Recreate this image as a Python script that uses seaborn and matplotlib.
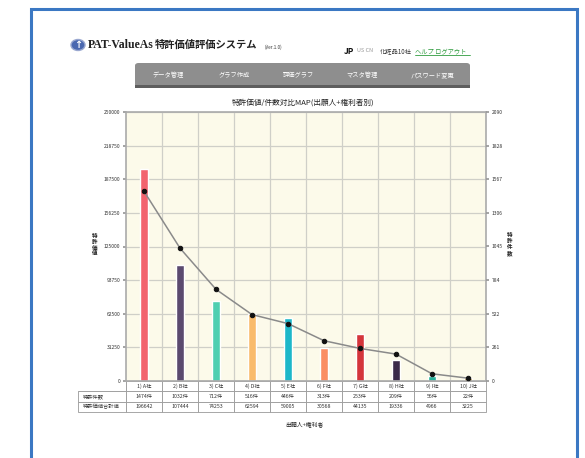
import matplotlib
matplotlib.use("Agg")
import matplotlib.pyplot as plt
from matplotlib.patches import Rectangle, FancyBboxPatch, Circle
import pandas as pd
import seaborn as sns

sns.set_theme(style="white")
plt.rcParams["font.family"] = ["Noto Sans CJK JP", "DejaVu Sans"]

# データ
categories = ["1) A社", "2) B社", "3) C社", "4) D社", "5) E社",
              "6) F社", "7) G社", "8) H社", "9) I社", "10) J社"]
patent_value = [196642, 107444, 74253, 62594, 59005, 30568, 44135, 19336, 4966, 3225]
patent_count = [1474, 1032, 712, 516, 446, 313, 253, 209, 56, 22]
bar_colors = ["#f2636f", "#5b4a6f", "#4fcfb1", "#f9bb6c", "#1db7c9",
              "#fa8d64", "#d4353b", "#3b2a49", "#27b29b", "#c9a13f"]
left_ticks = [0, 31250, 62500, 93750, 125000, 156250, 187500, 218750, 250000]
right_ticks = [0, 261.25, 522.5, 783.75, 1045, 1306.25, 1567.5, 1828.75, 2090]
right_labels = ["0", "261", "522", "784", "1045", "1306", "1567", "1828", "2090"]
row_labels = ["特許件数", "特許価値合計値"]
nav_items = ["データ管理", "グラフ作成", "評価グラフ", "マスタ管理", "パスワード変更"]

df = pd.DataFrame({"cat": categories, "value": patent_value, "count": patent_count})

W, H = 585, 458
fig = plt.figure(figsize=(W / 100, H / 100), dpi=100)
fig.patch.set_facecolor("white")


def fx(x):
    return x / W


def fy(y):
    return 1 - y / H


# 外枠
fig.add_artist(Rectangle((fx(31), fy(470)), fx(546), (470 - 9) / H, transform=fig.transFigure,
                         fill=False, edgecolor="#3b78c3", linewidth=2.2))

# ヘッダー
fig.add_artist(Circle((fx(78), fy(45)), 0.012, transform=fig.transFigure,
                      facecolor="#4a68b0", edgecolor="#9aa8d0", linewidth=1))
fig.text(fx(78), fy(45), "↑", ha="center", va="center", color="white", fontsize=7,
         fontweight="bold", family=["DejaVu Sans"])
fig.text(fx(88), fy(45), "PAT-ValueAs", ha="left", va="center", fontsize=8.5,
         fontweight="bold", family=["Liberation Serif", "DejaVu Serif"], color="#222")
fig.text(fx(155), fy(45), "特許価値評価システム", ha="left", va="center", fontsize=7.4,
         fontweight="bold", color="#222")
fig.text(fx(265), fy(47), "(Ver.1.0)", ha="left", va="center", fontsize=3.3, color="#333")
fig.text(fx(344), fy(51), "JP", ha="left", va="center", fontsize=6, fontweight="bold", color="#111")
fig.text(fx(357), fy(51), "US CN", ha="left", va="center", fontsize=4, color="#999")
fig.text(fx(380), fy(51), "化粧品10社", ha="left", va="center", fontsize=4.5, color="#333")
fig.text(fx(415), fy(51), "ヘルプ ログアウト", ha="left", va="center", fontsize=4.5,
         color="#2e9b3e")
fig.add_artist(plt.Line2D([fx(415), fx(470)], [fy(55), fy(55)], transform=fig.transFigure,
                          color="#2e9b3e", linewidth=0.6))

# ナビゲーション
fig.add_artist(FancyBboxPatch((fx(135), fy(87)), fx(335), 24 / H, transform=fig.transFigure,
                              boxstyle="round,pad=0,rounding_size=0.006",
                              facecolor="#8e8e8e", edgecolor="none"))
fig.add_artist(Rectangle((fx(135), fy(88)), fx(335), 3 / H, transform=fig.transFigure,
                         facecolor="#5e5e5e", edgecolor="none"))
for x, name in zip([168, 234, 298, 362, 432], nav_items):
    fig.text(fx(x), fy(75), name, ha="center", va="center", fontsize=4.5, color="white")

# グラフ
ax = fig.add_axes([fx(126), fy(381), fx(360), (381 - 112) / H])
ax.set_facecolor("#fcfaea")
sns.barplot(data=df, x="cat", y="value", hue="cat", palette=bar_colors, legend=False,
            width=0.2, saturation=1, ax=ax, zorder=2)
ax.set_ylim(0, 250000)
ax.set_xlim(-0.5, len(categories) - 0.5)
ax.set_yticks(left_ticks)
ax.set_yticklabels([str(t) for t in left_ticks])
ax.set_xticks([i + 0.5 for i in range(len(categories) - 1)], minor=True)
ax.set_xticks([])
ax.grid(True, axis="y", color="#cfcfc8", linewidth=0.9, zorder=0)
ax.grid(True, axis="x", which="minor", color="#cfcfc8", linewidth=0.9, zorder=0)
ax.tick_params(axis="y", labelsize=3.6, length=2, color="#999", pad=2, labelcolor="#333", left=True)
ax.tick_params(axis="x", which="minor", length=0)
ax.set_xlabel("")
ax.set_ylabel("")
for s in ax.spines.values():
    s.set_color("#aaaaaa")
    s.set_linewidth(1.2)

ax2 = ax.twinx()
sns.lineplot(data=df, x="cat", y="count", ax=ax2, color="#8a8a8a", linewidth=1.1,
             marker="o", markersize=3.2, markerfacecolor="#111", markeredgecolor="#111",
             sort=False, zorder=3)
ax2.set_ylim(0, 2090)
ax2.set_yticks(right_ticks)
ax2.set_yticklabels(right_labels)
ax2.tick_params(axis="y", labelsize=3.6, length=2, color="#999", pad=2, labelcolor="#333", right=True)
ax2.set_ylabel("")
ax2.set_xlabel("")
for s in ax2.spines.values():
    s.set_visible(False)

fig.text(fx(303), fy(103), "特許価値/件数対比MAP(出願人+権利者別)", ha="center", va="center",
         fontsize=5.5, color="#222")
fig.text(fx(95), fy(245), "特\n許\n価\n値", ha="center", va="center", fontsize=4,
         color="#222", linespacing=1.2, fontweight="bold")
fig.text(fx(510), fy(245), "特\n許\n件\n数", ha="center", va="center", fontsize=4,
         color="#222", linespacing=1.2, fontweight="bold")
fig.text(fx(305), fy(424), "出願人+権利者", ha="center", va="center", fontsize=4.2, color="#222")

# データテーブル
cell_text = [[row_labels[0]] + [f"{c}件" for c in patent_count],
             [row_labels[1]] + [str(v) for v in patent_value]]
col_labels = [""] + categories
widths = [48 / 408] + [36 / 408] * len(categories)
tbl = ax.table(cellText=cell_text, colLabels=col_labels, colWidths=widths,
               cellLoc="center", bbox=[-48 / 360, -31 / 269, 408 / 360, 31 / 269])
tbl.auto_set_font_size(False)
tbl.set_fontsize(3.8)
for (r, c), cell in tbl.get_celld().items():
    cell.set_edgecolor("#999999")
    cell.set_linewidth(0.6)
    cell.set_facecolor("white")
    cell.get_text().set_color("#333")
    if c == 0:
        cell.get_text().set_ha("left")
        cell._loc = "left"
    if r == 0 and c == 0:
        cell.visible_edges = "BR"

fig.savefig("out.png", dpi=100)
